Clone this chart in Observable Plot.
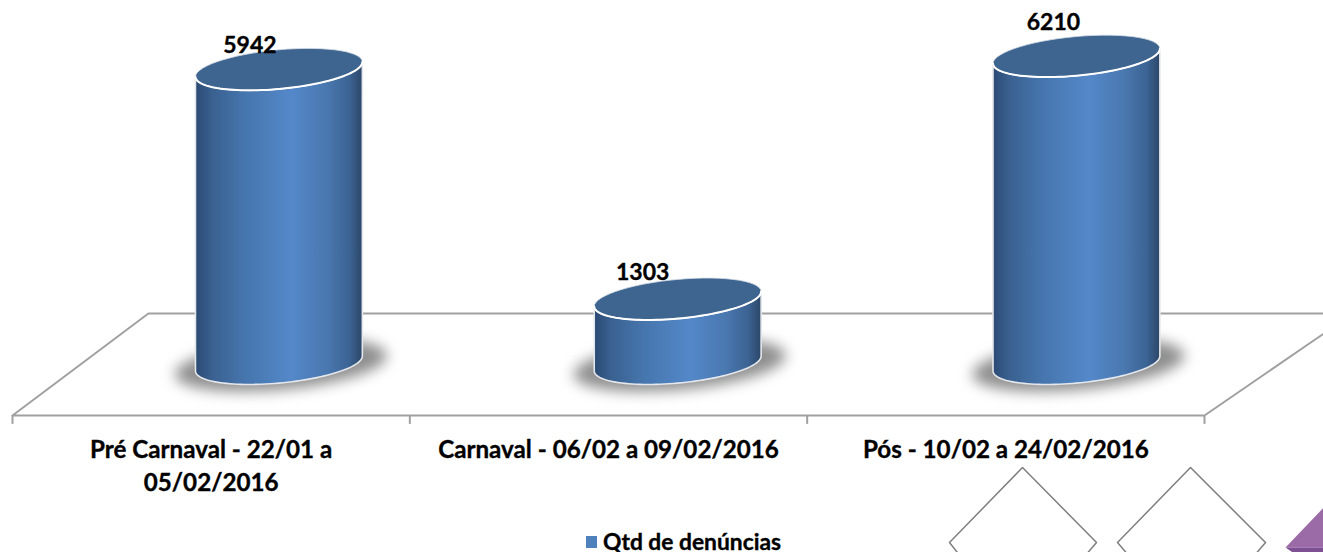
<!DOCTYPE html>
<html>
<head>
<meta charset="utf-8">
<script src="https://cdn.jsdelivr.net/npm/d3@7"></script>
<script src="https://cdn.jsdelivr.net/npm/@observablehq/plot@0.6"></script>
<style>
html,body{margin:0;padding:0;background:#fff;overflow:hidden;width:1323px;height:552px}
#wrap{position:relative;width:1323px;height:552px;overflow:hidden}
#legend{position:absolute;left:586px;top:530px;height:22px;display:flex;align-items:center;font:bold 22.8px/22px Lato,sans-serif;color:#000;-webkit-text-stroke:0.35px #000}
#legend i{display:inline-block;width:11px;height:12px;background:#4f81bd;margin-right:6px;margin-top:2px}
#legend span{display:inline-block;height:22px;line-height:22px}
svg{display:block;overflow:hidden}
</style>
</head>
<body>
<div id="wrap">
<div id="legend"><i></i><span>Qtd de denúncias</span></div>
</div>
<script>
// Data
const categories = ["Pré Carnaval - 22/01 a 05/02/2016", "Carnaval - 06/02 a 09/02/2016", "Pós - 10/02 a 24/02/2016"];
const values = [5942, 1303, 6210];
const seriesName = "Qtd de denúncias";

// Geometry of the pseudo-3D scene, in scale units
const xMax = categories.length;
const yMax = 7000;
const floorFront = -1050, floorBack = 1010, tickEnd = -1230;
const depth = 0.342;            // horizontal shift of the floor's back edge
const spacing = 1.0036, firstCentre = 0.6705;
const radiusX = 0.21, radiusY = 396, tilt = 150;

const rows = categories.map((category, i) => ({category, value: values[i], i, cx: firstCentre + i * spacing}));
const labelNudge = [[-29, -24], [-35, -26], [-23, -33]];

const arc = (cx, level, from, to, grow = 1) => d3.range(61).map(k => {
  const t = from + (to - from) * k / 60;
  return {x: cx + grow * radiusX * Math.cos(t), y: level + grow * (tilt * Math.cos(t) - radiusY * Math.sin(t))};
});
const bodies = rows.flatMap(r => {
  const pts = [...arc(r.cx, 0, 0, Math.PI), ...arc(r.cx, r.value, Math.PI, 0)];
  pts.push(pts[0]);
  return pts.map(p => ({...p, z: r.i}));
});
const caps = rows.flatMap(r => arc(r.cx, r.value, 0, 2 * Math.PI).map(p => ({...p, z: r.i})));
const capEdges = rows.flatMap(r => arc(r.cx, r.value, 0, Math.PI).map(p => ({...p, z: r.i})));
const shadows = rows.flatMap(r => arc(r.cx + 0.005, -30, 0, 2 * Math.PI, 1.27).map(p => ({...p, z: r.i})));

const floor = [
  {x: 4, y: floorBack}, {x: depth, y: floorBack}, {x: 0, y: floorFront},
  {x: 3, y: floorFront}, {x: 3 + depth + 0.05, y: floorBack + 100}
];

// Slide artwork showing through at the lower right corner
const sx = px => (px - 12) / 397.33, sy = py => (363 - py) / 0.0495;
const shape = (pts, z) => pts.map(([a, b]) => ({x: sx(a), y: sy(b), z}));
const diamonds = [
  ...shape([[960, 556], [949, 542], [1022, 467], [1096, 542], [1084, 556]], 0),
  ...shape([[1129, 556], [1117, 542], [1190, 467], [1265, 542], [1253, 556]], 1)
];
const purple = shape([[1285, 547], [1330, 500], [1330, 547]], 0);
const purpleDark = shape([[1285, 547], [1330, 547], [1330, 556], [1298, 556]], 0);

const defs = () => {
  const svg = d3.create("svg:g");
  const g = svg.append("defs").append("linearGradient").attr("id", "cyl").attr("x1", 0).attr("x2", 1).attr("y1", 0).attr("y2", 0);
  [[0, "#2b4a74"], [0.1, "#3a6190"], [0.3, "#4676ae"], [0.58, "#5488c9"],
   [0.78, "#4a78b0"], [0.92, "#3c6494"], [1, "#2c4668"]].forEach(([o, c]) => g.append("stop").attr("offset", o).attr("stop-color", c));
  return svg.node();
};

const chart = Plot.plot({
  width: 1323, height: 552,
  marginLeft: 12, marginRight: 119, marginTop: 16.5, marginBottom: 189,
  style: {background: "transparent", overflow: "hidden"},
  x: {type: "linear", domain: [0, xMax], axis: null},
  y: {type: "linear", domain: [0, yMax], axis: null},
  marks: [
    defs,
    Plot.line(floor, {x: "x", y: "y", stroke: "#a0a0a0", strokeWidth: 2}),
    Plot.ruleX(d3.range(xMax + 1), {y1: floorFront, y2: tickEnd, stroke: "#a0a0a0", strokeWidth: 2}),
    Plot.line(shadows, {x: "x", y: "y", z: "z", fill: "#8e8e8e", stroke: "none", imageFilter: "blur(7px)"}),
    Plot.line(bodies, {x: "x", y: "y", z: "z", fill: "url(#cyl)", stroke: "#e4e7ec", strokeWidth: 1.6}),
    Plot.line(caps, {x: "x", y: "y", z: "z", fill: "#3e6490", stroke: "#d5dde6", strokeWidth: 0.8}),
    Plot.line(capEdges, {x: "x", y: "y", z: "z", stroke: "#ffffff", strokeWidth: 2}),
    Plot.text(rows, {
      x: "cx", y: "value", text: d => String(d.value),
      fontFamily: "Lato, sans-serif", fontWeight: 700, fontSize: 23, fill: "#000", stroke: "#000", strokeWidth: 0.35,
      render: (index, scales, values, dims, context, next) => {
        const g = next(index, scales, values, dims, context);
        d3.select(g).selectAll("text").each(function(i) {
          const [nx, ny] = labelNudge[i];
          d3.select(this).attr("transform", `translate(${values.x[i] + nx},${values.y[i] + ny})`);
        });
        return g;
      }
    }),
    Plot.text(rows, {
      x: d => d.i + 0.5, y: tickEnd, text: "category", lineWidth: 15.5, lineHeight: 1.38,
      textAnchor: "middle", lineAnchor: "top", dy: 10,
      fontFamily: "Lato, sans-serif", fontWeight: 700, fontSize: 24.2, fill: "#000", stroke: "#000", strokeWidth: 0.35
    }),
    Plot.line(diamonds, {x: "x", y: "y", z: "z", stroke: "#7f7f7f", strokeWidth: 1.5}),
    Plot.line(purple, {x: "x", y: "y", fill: "#9a6ba6", stroke: "none"}),
    Plot.line(purpleDark, {x: "x", y: "y", fill: "#7f4f93", stroke: "none"})
  ]
});
document.getElementById("wrap").prepend(chart);
document.querySelector("#legend span").textContent = seriesName;
</script>
</body>
</html>
